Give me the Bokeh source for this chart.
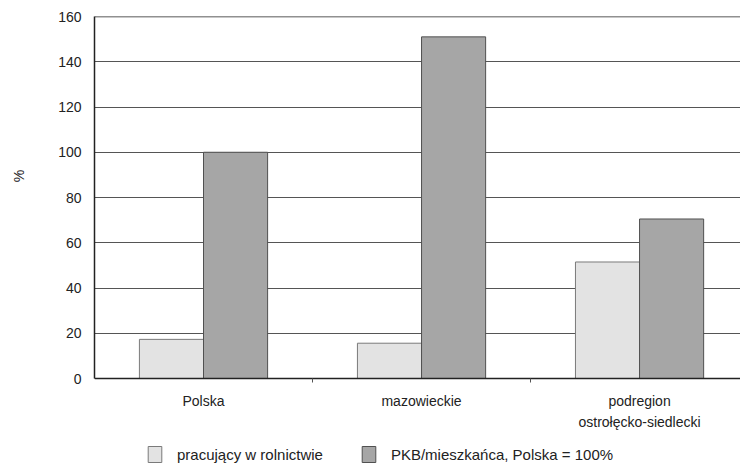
from bokeh.plotting import figure
from bokeh.models import Range1d, FixedTicker, Legend, LegendItem, Span, ColumnDataSource
from bokeh.embed import file_html
from bokeh.resources import INLINE

categories = ["Polska", "mazowieckie", "podregion\nostrołęcko-siedlecki"]
series_names = ["pracujący w rolnictwie", "PKB/mieszkańca, Polska = 100%"]
pracujacy = [17.3, 15.6, 51.5]
pkb = [100.0, 151.0, 70.5]
y_ticks = [0, 20, 40, 60, 80, 100, 120, 140, 160]

FONT = "Liberation Sans"
centers = [i + 0.5 for i in range(len(categories))]
bw = 0.294

p = figure(frame_width=646, frame_height=455, output_backend="svg", toolbar_location=None,
           x_range=Range1d(0, 2.963), y_range=Range1d(-41.1, 160),
           min_border_left=94, min_border_right=0, min_border_top=16, min_border_bottom=0)
p.outline_line_color = None
p.background_fill_color = "white"
p.border_fill_color = "white"

src1 = ColumnDataSource(dict(x=[c - bw / 2 for c in centers], top=pracujacy))
src2 = ColumnDataSource(dict(x=[c + bw / 2 for c in centers], top=pkb))
r1 = p.vbar(x="x", top="top", width=bw, source=src1, fill_color="#e3e3e3",
            line_color="#7a7a7a", line_width=1)
r2 = p.vbar(x="x", top="top", width=bw, source=src2, fill_color="#a6a6a6",
            line_color="#505050", line_width=1)

# axes
p.xaxis.fixed_location = 0
p.xaxis.ticker = FixedTicker(ticks=centers, minor_ticks=[1, 2])
p.xaxis.major_label_overrides = {c: lab for c, lab in zip(centers, categories)}
p.xaxis.major_tick_line_color = None
p.xaxis.minor_tick_out = 4
p.xaxis.minor_tick_in = 0
p.xaxis.minor_tick_line_color = "#555555"
p.xaxis.axis_line_color = "#222222"
p.xaxis.axis_line_width = 1.5
p.xaxis.major_label_text_font = FONT
p.xaxis.major_label_text_font_size = "14px"
p.xaxis.major_label_text_color = "#222222"
p.xaxis.major_label_text_line_height = 1.35
p.xaxis.major_label_standoff = 8

p.yaxis.ticker = FixedTicker(ticks=y_ticks)
p.yaxis.bounds = (0, 160)
p.yaxis.major_tick_out = 0
p.yaxis.major_tick_in = 0
p.yaxis.minor_tick_line_color = None
p.yaxis.axis_line_color = "#222222"
p.yaxis.axis_line_width = 1.5
p.yaxis.major_label_text_font = FONT
p.yaxis.major_label_text_font_size = "14px"
p.yaxis.major_label_text_color = "#222222"
p.yaxis.major_label_standoff = 13
p.yaxis.axis_label = "\u00a0" * 35 + "%"
p.yaxis.axis_label_text_font = FONT
p.yaxis.axis_label_text_font_size = "14px"
p.yaxis.axis_label_text_font_style = "normal"
p.yaxis.axis_label_text_color = "#222222"
p.yaxis.axis_label_standoff = 28

p.xgrid.grid_line_color = None
p.ygrid.grid_line_color = "#555555"
p.ygrid.grid_line_width = 1
p.ygrid.ticker = FixedTicker(ticks=y_ticks)

p.add_layout(Span(location=160, dimension="width", line_color="#222222", line_width=1.5))

legend = Legend(items=[LegendItem(label=series_names[0], renderers=[r1]),
                       LegendItem(label=series_names[1], renderers=[r2])],
                orientation="horizontal", location=(52, 7),
                label_text_font=FONT, label_text_font_size="15px", label_text_color="#222222",
                glyph_width=17, glyph_height=20, spacing=37, label_standoff=14,
                border_line_color=None, background_fill_alpha=0, margin=0, padding=2)
p.add_layout(legend, "center")

open("out.html", "w").write(file_html(p, INLINE))
